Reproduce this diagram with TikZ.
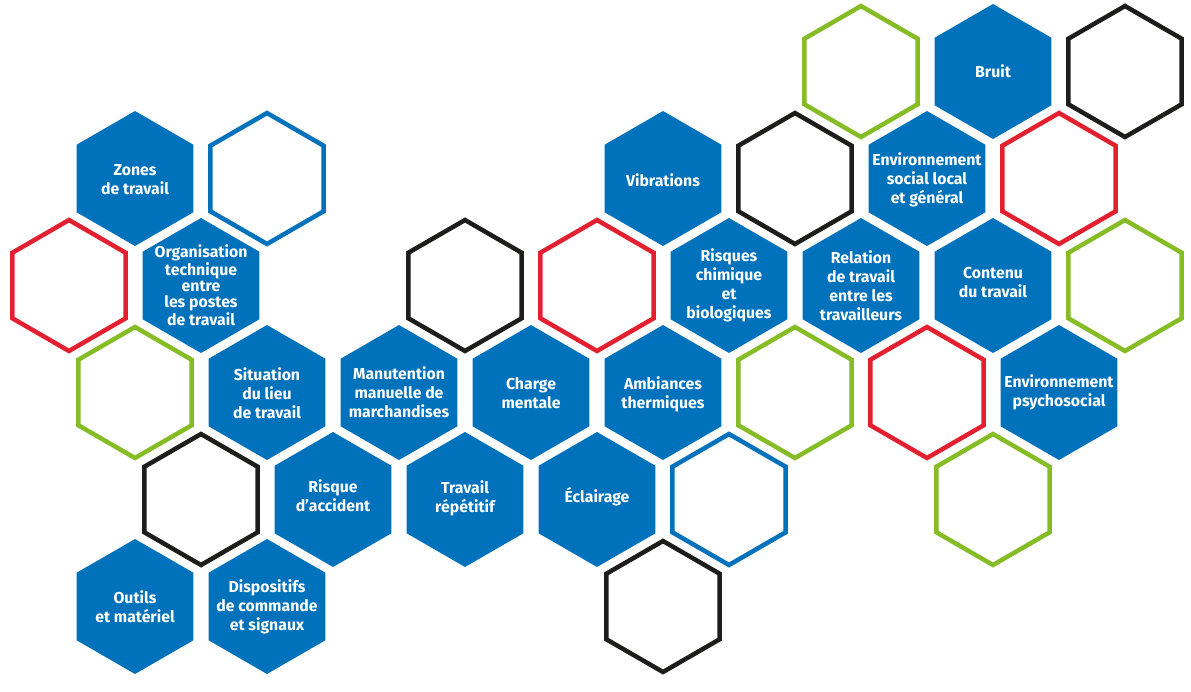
\documentclass[tikz,border=0pt]{standalone}
\usepackage{fontspec}
\setmainfont{Fira Sans}
\usepackage{tikz}
\usetikzlibrary{shapes.geometric}
\definecolor{hexblue}{HTML}{0072BC}
\definecolor{hexred}{HTML}{E2202F}
\definecolor{hexgreen}{HTML}{86BC25}
\definecolor{hexblack}{HTML}{1D1D1B}

\begin{document}
\begin{tikzpicture}[x=0.02cm, y=-0.02cm,
  hexa/.style={regular polygon, regular polygon sides=6, shape border rotate=30, inner sep=0pt},
  hexcell/.style={hexa, minimum size=2.7cm, fill=hexblue},
  hexring/.style={hexa, minimum size=2.62cm, draw=#1, line width=0.09cm},
  hextext/.style={text=white, font=\bfseries\fontsize{9}{10.8}\selectfont, align=center, inner sep=0pt}]
\useasboundingbox (0,0) rectangle (1191,691);

% empty rings: column / row / colour
\foreach \k/\r/\c [count=\i] in {12/0/hexgreen, 16/0/hexblack,
    3/1/hexblue, 11/1/hexblack, 15/1/hexred,
    0/2/hexred, 6/2/hexblack, 8/2/hexred, 16/2/hexgreen,
    1/3/hexgreen, 11/3/hexgreen, 13/3/hexred,
    2/4/hexblack, 10/4/hexblue, 14/4/hexgreen,
    9/5/hexblack}
  \node[hexring=\c] (ring\i) at ({69+66*\k},{71.5+107*\r}) {};

% filled cells
\node[hexcell] (bruit) at (993,71.5) {};
\node[hextext] (tbruit) at (bruit) {Bruit};

\node[hexcell] (zones) at (135,178.5) {};
\node[hextext] (tzones) at ([yshift=-0.5pt]zones) {Zones\\de travail};
\node[hexcell] (vibr) at (663,178.5) {};
\node[hextext] (tvibr) at ([yshift=-1pt]vibr) {Vibrations};
\node[hexcell] (envsoc) at (927,178.5) {};
\node[hextext] (tenvsoc) at ([yshift=-1pt]envsoc) {Environnement\\social local\\et général};

\node[hexcell] (orga) at (201,285.5) {};
\node[hextext, font=\bfseries\fontsize{9}{9.1}\selectfont] (torga) at (orga) {Organisation\\technique\\entre\\les postes\\de travail};
\node[hexcell] (chim) at (729,285.5) {};
\node[hextext] (tchim) at (chim) {Risques\\chimique\\et\\biologiques};
\node[hexcell] (relat) at (861,285.5) {};
\node[hextext] (trelat) at (relat) {Relation\\de travail\\entre les\\travailleurs};
\node[hexcell] (contenu) at (993,285.5) {};
\node[hextext] (tcontenu) at ([yshift=1.5pt]contenu) {Contenu\\du travail};

\node[hexcell] (situ) at (267,392.5) {};
\node[hextext] (tsitu) at ([yshift=-0.5pt]situ) {Situation\\du lieu\\de travail};
\node[hexcell] (manut) at (399,392.5) {};
\node[hextext] (tmanut) at (manut) {Manutention\\manuelle de\\marchandises};
\node[hexcell] (charge) at (531,392.5) {};
\node[hextext] (tcharge) at ([yshift=-0.5pt]charge) {Charge\\mentale};
\node[hexcell] (ambi) at (663,392.5) {};
\node[hextext] (tambi) at ([yshift=-1pt]ambi) {Ambiances\\thermiques};
\node[hexcell] (envpsy) at (1059,392.5) {};
\node[hextext] (tenvpsy) at (envpsy) {Environnement\\psychosocial};

\node[hexcell] (accid) at (333,499.5) {};
\node[hextext] (taccid) at ([yshift=2.3pt]accid) {Risque\\d’accident};
\node[hexcell] (repet) at (465,499.5) {};
\node[hextext] (trepet) at ([yshift=0.6pt]repet) {Travail\\répétitif};
\node[hexcell] (eclair) at (597,499.5) {};
\node[hextext] (teclair) at ([yshift=1.7pt]eclair) {Éclairage};

\node[hexcell] (outils) at (135,606.5) {};
\node[hextext] (toutils) at (outils) {Outils\\et matériel};
\node[hexcell] (dispo) at (267,606.5) {};
\node[hextext] (tdispo) at (dispo) {Dispositifs\\de commande\\et signaux};
\end{tikzpicture}
\end{document}
